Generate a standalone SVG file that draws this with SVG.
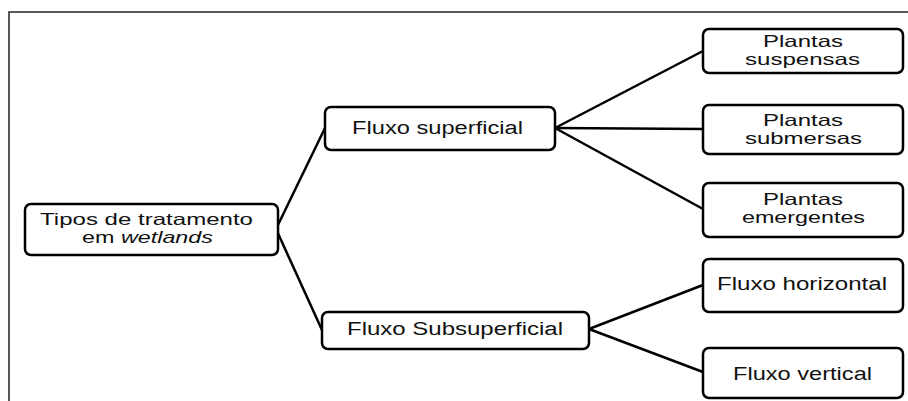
<svg xmlns="http://www.w3.org/2000/svg" width="908" height="401" viewBox="0 0 908 401">
<style>
.box{fill:#fff;stroke:#000;stroke-width:2.5}
.lbl{font-family:"Liberation Sans",Arial,sans-serif;font-size:18px;fill:#111;text-anchor:middle}
.two{font-size:16.5px}
.con{stroke:#000;stroke-width:2.5;fill:none}
.frame{stroke:#222;stroke-width:1.5;fill:none}
</style>
<path class="frame" d="M9,401 V12 H908"/>
<g id="connectors">
<line class="con" x1="276" y1="229" x2="325" y2="128"/>
<line class="con" x1="276" y1="229" x2="322" y2="330"/>
<line class="con" x1="555" y1="128" x2="703" y2="51"/>
<line class="con" x1="555" y1="128" x2="703" y2="129"/>
<line class="con" x1="555" y1="128" x2="703" y2="209"/>
<line class="con" x1="589" y1="329" x2="703" y2="285"/>
<line class="con" x1="589" y1="329" x2="703" y2="372"/>
</g>
<g id="root">
<rect class="box" x="25" y="204" width="253" height="51" rx="6"/>
<text class="lbl two" x="146.5" y="225" textLength="213" lengthAdjust="spacingAndGlyphs">Tipos de tratamento</text>
<text class="lbl two" x="147.5" y="243" textLength="131" lengthAdjust="spacingAndGlyphs">em <tspan font-style="italic">wetlands</tspan></text>
</g>
<g id="fluxo-superficial">
<rect class="box" x="325" y="107" width="230" height="43" rx="6"/>
<text class="lbl" x="437.5" y="134" textLength="171" lengthAdjust="spacingAndGlyphs">Fluxo superficial</text>
</g>
<g id="fluxo-subsuperficial">
<rect class="box" x="322" y="312" width="267" height="37" rx="6"/>
<text class="lbl" x="455" y="335" textLength="216" lengthAdjust="spacingAndGlyphs">Fluxo Subsuperficial</text>
</g>
<g id="plantas-suspensas">
<rect class="box" x="703" y="29" width="200" height="44" rx="6"/>
<text class="lbl two" x="803" y="47" textLength="80" lengthAdjust="spacingAndGlyphs">Plantas</text>
<text class="lbl two" x="802.5" y="65" textLength="115" lengthAdjust="spacingAndGlyphs">suspensas</text>
</g>
<g id="plantas-submersas">
<rect class="box" x="703" y="105" width="200" height="49" rx="6"/>
<text class="lbl two" x="803" y="126" textLength="80" lengthAdjust="spacingAndGlyphs">Plantas</text>
<text class="lbl two" x="803.5" y="144" textLength="117" lengthAdjust="spacingAndGlyphs">submersas</text>
</g>
<g id="plantas-emergentes">
<rect class="box" x="703" y="183" width="200" height="54" rx="6"/>
<text class="lbl two" x="803" y="205" textLength="80" lengthAdjust="spacingAndGlyphs">Plantas</text>
<text class="lbl two" x="803.5" y="223" textLength="123" lengthAdjust="spacingAndGlyphs">emergentes</text>
</g>
<g id="fluxo-horizontal">
<rect class="box" x="703" y="259" width="200" height="53" rx="6"/>
<text class="lbl" x="802" y="290" textLength="170" lengthAdjust="spacingAndGlyphs">Fluxo horizontal</text>
</g>
<g id="fluxo-vertical">
<rect class="box" x="703" y="348" width="200" height="50" rx="6"/>
<text class="lbl" x="802.5" y="380" textLength="139" lengthAdjust="spacingAndGlyphs">Fluxo vertical</text>
</g>
</svg>
